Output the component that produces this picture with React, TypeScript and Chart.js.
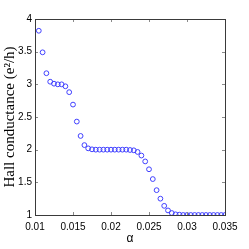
import React, { useEffect, useRef } from "react";
import { Chart, registerables } from "chart.js";

Chart.register(...registerables);

const alphaValues: number[] = [
  0.0105, 0.011, 0.0115, 0.012, 0.0125, 0.013, 0.0135, 0.014, 0.0145, 0.015,
  0.0155, 0.016, 0.0165, 0.017, 0.0175, 0.018, 0.0185, 0.019, 0.0195, 0.02,
  0.0205, 0.021, 0.0215, 0.022, 0.0225, 0.023, 0.0235, 0.024, 0.0245, 0.025,
  0.0255, 0.026, 0.0265, 0.027, 0.0275, 0.028, 0.0285, 0.029, 0.0295, 0.03,
  0.0305, 0.031, 0.0315, 0.032, 0.0325, 0.033, 0.0335, 0.034, 0.0345, 0.035,
];

const hallValues: number[] = [
  3.82, 3.49, 3.17, 3.04, 3.01, 3.0, 3.0, 2.97, 2.88, 2.69,
  2.43, 2.21, 2.07, 2.02, 2.005, 2.0, 2.0, 2.0, 2.0, 2.0,
  2.0, 2.0, 2.0, 2.0, 1.995, 1.99, 1.965, 1.91, 1.82, 1.7,
  1.55, 1.38, 1.25, 1.14, 1.07, 1.03, 1.01, 1.005, 1.0, 1.0,
  1.0, 1.0, 1.0, 1.0, 1.0, 1.0, 1.0, 1.0, 1.0, 1.0,
];

const xTickValues: number[] = [0.01, 0.015, 0.02, 0.025, 0.03, 0.035];
const xTickLabels: string[] = ["0.01", "0.015", "0.02", "0.025", "0.03", "0.035"];
const yTickValues: number[] = [1, 1.5, 2, 2.5, 3, 3.5, 4];
const yTickLabels: string[] = ["1", "1.5", "2", "2.5", "3", "3.5", "4"];

const xTitle = "α";
const yTitle = "Hall conductance (e²/h)";

const tickFont = "'Liberation Sans Narrow', 'Liberation Sans', Arial, sans-serif";

const framePlugin = {
  id: "matlabFrame",
  afterDraw(chart: any) {
    const { ctx, chartArea } = chart;
    const { left, right, top, bottom } = chartArea;
    const xs = chart.scales.x;
    const ys = chart.scales.y;
    ctx.save();
    ctx.strokeStyle = "#8a8a8a";
    ctx.lineWidth = 1;
    const tl = 3;
    ctx.beginPath();
    xTickValues.forEach((v) => {
      const px = Math.round(xs.getPixelForValue(v)) + 0.5;
      ctx.moveTo(px, bottom);
      ctx.lineTo(px, bottom - tl);
      ctx.moveTo(px, top);
      ctx.lineTo(px, top + tl);
    });
    yTickValues.forEach((v) => {
      const py = Math.round(ys.getPixelForValue(v)) + 0.5;
      ctx.moveTo(left, py);
      ctx.lineTo(left + tl, py);
      ctx.moveTo(right, py);
      ctx.lineTo(right - tl, py);
    });
    ctx.stroke();
    ctx.strokeStyle = "#3a3a3a";
    ctx.lineWidth = 1;
    ctx.strokeRect(
      Math.round(left) + 0.5,
      Math.round(top) + 0.5,
      Math.round(right - left),
      Math.round(bottom - top)
    );
    ctx.restore();
  },
};

export default function App() {
  const canvasRef = useRef<HTMLCanvasElement | null>(null);

  useEffect(() => {
    const canvas = canvasRef.current;
    if (!canvas) return;
    const data = alphaValues.map((a, i) => ({ x: a, y: hallValues[i] }));
    const chart = new Chart(canvas, {
      type: "scatter",
      data: {
        datasets: [
          {
            data,
            showLine: false,
            pointStyle: "circle",
            pointRadius: 2.4,
            pointBorderWidth: 1,
            borderColor: "#4040ff",
            backgroundColor: "rgba(0,0,0,0)",
            pointBackgroundColor: "rgba(0,0,0,0)",
            pointBorderColor: "#4040ff",
          },
        ],
      },
      options: {
        responsive: false,
        animation: false,
        layout: { padding: { left: 0, right: 24, top: 19, bottom: 0 } },
        plugins: {
          legend: { display: false },
          tooltip: { enabled: false },
        },
        scales: {
          x: {
            type: "linear",
            min: 0.01,
            max: 0.035,
            afterBuildTicks: (scale: any) => {
              scale.ticks = xTickValues.map((v) => ({ value: v }));
            },
            afterFit: (scale: any) => {
              scale.height = 34;
            },
            grid: { display: false, drawTicks: false },
            border: { display: false },
            ticks: {
              padding: 6,
              color: "#000",
              font: { family: tickFont, size: 10 },
              maxRotation: 0,
              autoSkip: false,
              callback: (v: any) => {
                const i = xTickValues.findIndex((t) => Math.abs(t - Number(v)) < 1e-9);
                return i >= 0 ? xTickLabels[i] : "";
              },
            },
            title: {
              display: true,
              text: xTitle,
              color: "#000",
              font: { family: "'Liberation Sans', Arial, sans-serif", size: 12 },
              padding: { top: 0, bottom: 3 },
            },
          },
          y: {
            type: "linear",
            min: 1,
            max: 4,
            afterBuildTicks: (scale: any) => {
              scale.ticks = yTickValues.map((v) => ({ value: v }));
            },
            afterFit: (scale: any) => {
              scale.width = 35;
            },
            grid: { display: false, drawTicks: false },
            border: { display: false },
            ticks: {
              padding: 3,
              color: "#000",
              font: { family: tickFont, size: 10 },
              autoSkip: false,
              callback: (v: any) => {
                const i = yTickValues.findIndex((t) => Math.abs(t - Number(v)) < 1e-9);
                return i >= 0 ? yTickLabels[i] : "";
              },
            },
            title: {
              display: true,
              text: yTitle,
              color: "#000",
              font: { family: "'Liberation Serif', 'Times New Roman', serif", size: 15 },
              padding: { top: 1, bottom: 0 },
            },
          },
        },
      },
      plugins: [framePlugin],
    });
    return () => chart.destroy();
  }, []);

  return (
    <div style={{ position: "absolute", left: 0, top: 0, width: 249, height: 249, background: "#fff" }}>
      <canvas ref={canvasRef} width={249} height={249} style={{ width: 249, height: 249, display: "block" }} />
    </div>
  );
}
